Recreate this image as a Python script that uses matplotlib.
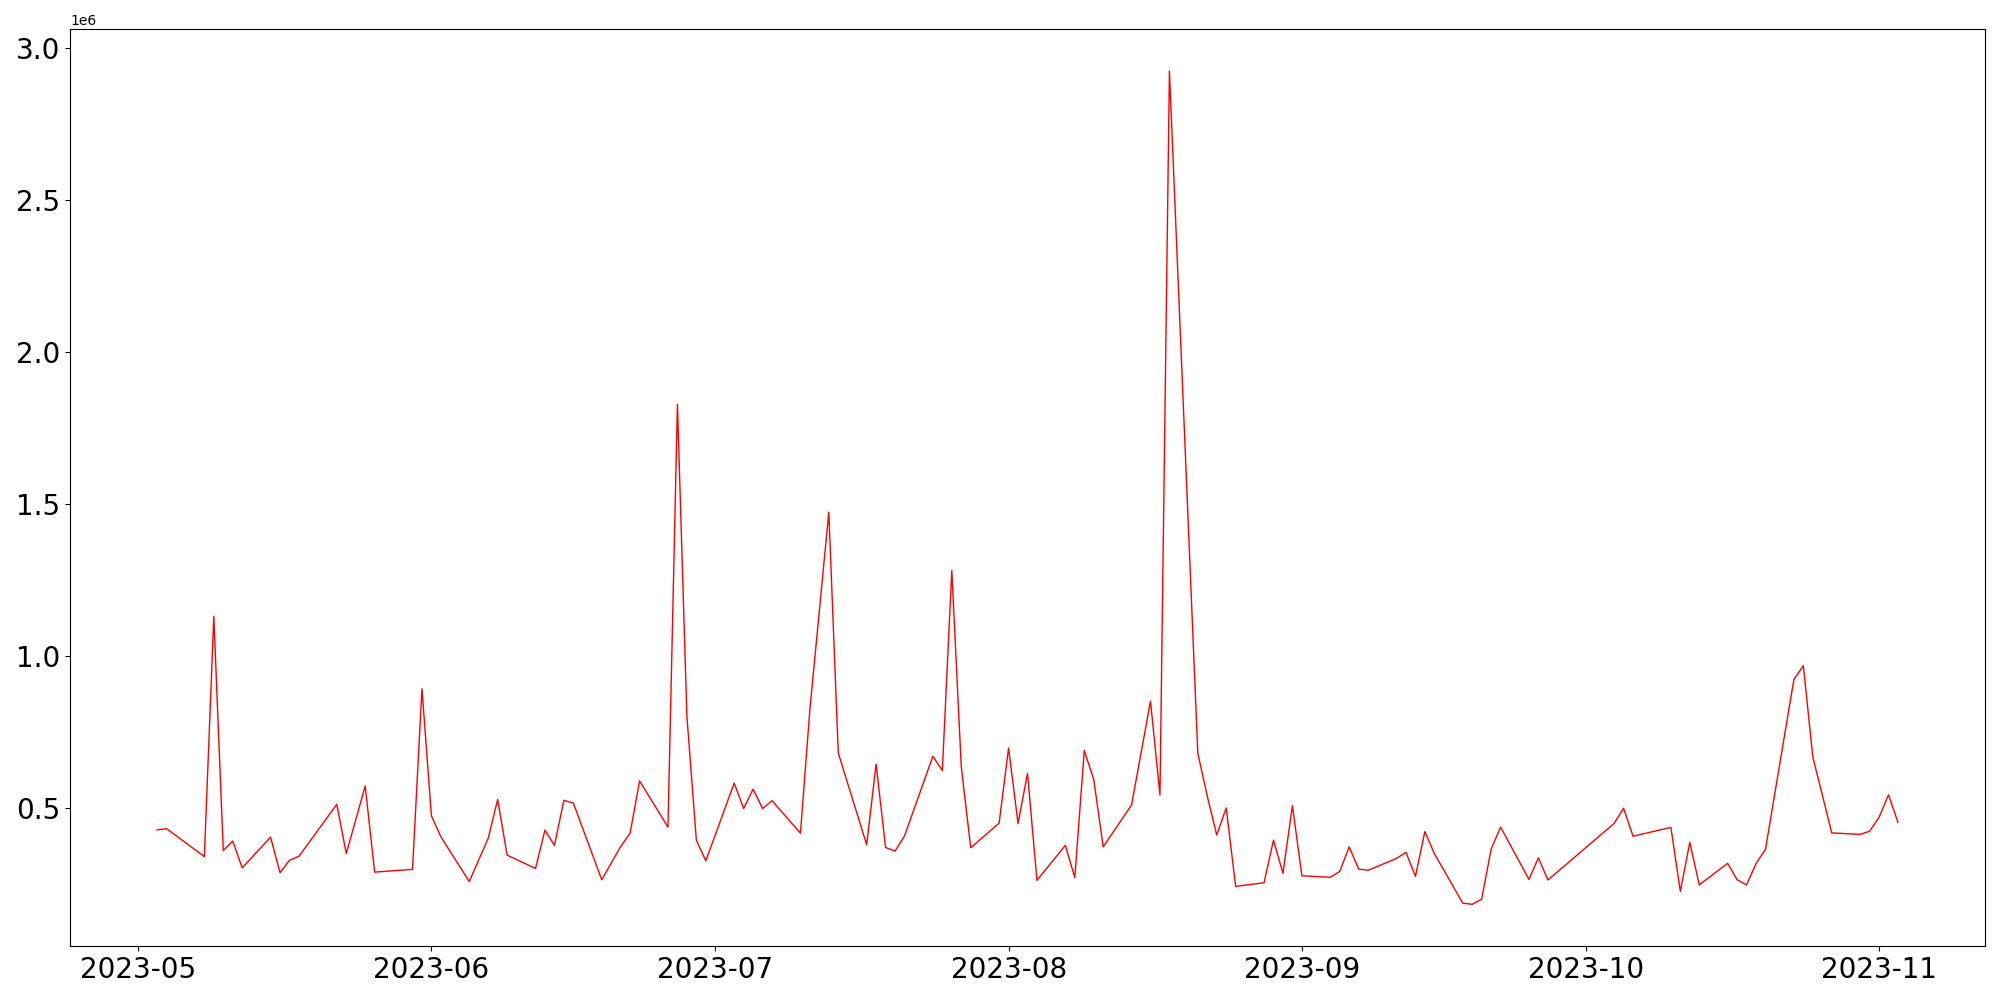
import matplotlib
matplotlib.use("Agg")
import matplotlib.pyplot as plt
import pandas as pd

dates = [
    "2023-05-03", "2023-05-04", "2023-05-08", "2023-05-09", "2023-05-10", "2023-05-11", "2023-05-12",
    "2023-05-15", "2023-05-16", "2023-05-17", "2023-05-18", "2023-05-22", "2023-05-23", "2023-05-25",
    "2023-05-26", "2023-05-30", "2023-05-31", "2023-06-01", "2023-06-02", "2023-06-05", "2023-06-07",
    "2023-06-08", "2023-06-09", "2023-06-12", "2023-06-13", "2023-06-14", "2023-06-15", "2023-06-16",
    "2023-06-19", "2023-06-21", "2023-06-22", "2023-06-23", "2023-06-26", "2023-06-27", "2023-06-28",
    "2023-06-29", "2023-06-30", "2023-07-03", "2023-07-04", "2023-07-05", "2023-07-06", "2023-07-07",
    "2023-07-10", "2023-07-11", "2023-07-13", "2023-07-14", "2023-07-17", "2023-07-18", "2023-07-19",
    "2023-07-20", "2023-07-21", "2023-07-24", "2023-07-25", "2023-07-26", "2023-07-27", "2023-07-28",
    "2023-07-31", "2023-08-01", "2023-08-02", "2023-08-03", "2023-08-04", "2023-08-07", "2023-08-08",
    "2023-08-09", "2023-08-10", "2023-08-11", "2023-08-14", "2023-08-16", "2023-08-17", "2023-08-18",
    "2023-08-21", "2023-08-22", "2023-08-23", "2023-08-24", "2023-08-25", "2023-08-28", "2023-08-29",
    "2023-08-30", "2023-08-31", "2023-09-01", "2023-09-04", "2023-09-05", "2023-09-06", "2023-09-07",
    "2023-09-08", "2023-09-11", "2023-09-12", "2023-09-13", "2023-09-14", "2023-09-15", "2023-09-18",
    "2023-09-19", "2023-09-20", "2023-09-21", "2023-09-22", "2023-09-25", "2023-09-26", "2023-09-27",
    "2023-10-04", "2023-10-05", "2023-10-06", "2023-10-10", "2023-10-11", "2023-10-12", "2023-10-13",
    "2023-10-16", "2023-10-17", "2023-10-18", "2023-10-19", "2023-10-20", "2023-10-23", "2023-10-24",
    "2023-10-25", "2023-10-27", "2023-10-30", "2023-10-31", "2023-11-01", "2023-11-02", "2023-11-03",
]

values_m = [
    0.428, 0.432, 0.340, 1.130, 0.360, 0.391, 0.303,
    0.404, 0.287, 0.328, 0.341, 0.512, 0.350, 0.572,
    0.289, 0.298, 0.892, 0.474, 0.405, 0.258, 0.400,
    0.528, 0.345, 0.301, 0.427, 0.377, 0.525, 0.516,
    0.264, 0.373, 0.417, 0.589, 0.437, 1.828, 0.802,
    0.394, 0.326, 0.582, 0.498, 0.562, 0.498, 0.524,
    0.417, 0.824, 1.473, 0.681, 0.379, 0.644, 0.370,
    0.358, 0.408, 0.670, 0.623, 1.281, 0.635, 0.369,
    0.450, 0.697, 0.449, 0.614, 0.262, 0.377, 0.271,
    0.689, 0.594, 0.372, 0.510, 0.851, 0.543, 2.924,
    0.680, 0.539, 0.411, 0.500, 0.242, 0.254, 0.394,
    0.285, 0.508, 0.277, 0.272, 0.291, 0.372, 0.299,
    0.295, 0.334, 0.354, 0.275, 0.4225, 0.350, 0.187,
    0.183, 0.200, 0.364, 0.437, 0.265, 0.336, 0.263,
    0.449, 0.499, 0.407, 0.436, 0.2255, 0.387, 0.247,
    0.318, 0.264, 0.247, 0.317, 0.364, 0.9225, 0.968,
    0.668, 0.418, 0.413, 0.4235, 0.469, 0.543, 0.453,
]

x = pd.to_datetime(dates)
y = [v * 1e6 for v in values_m]

fig, ax = plt.subplots(figsize=(20, 10), dpi=100)
ax.plot(x, y, color="red", linewidth=1.0)
ax.tick_params(labelsize=20)
fig.subplots_adjust(left=0.035, right=0.9925, top=0.9707, bottom=0.054)
fig.savefig("out.png", dpi=100)
